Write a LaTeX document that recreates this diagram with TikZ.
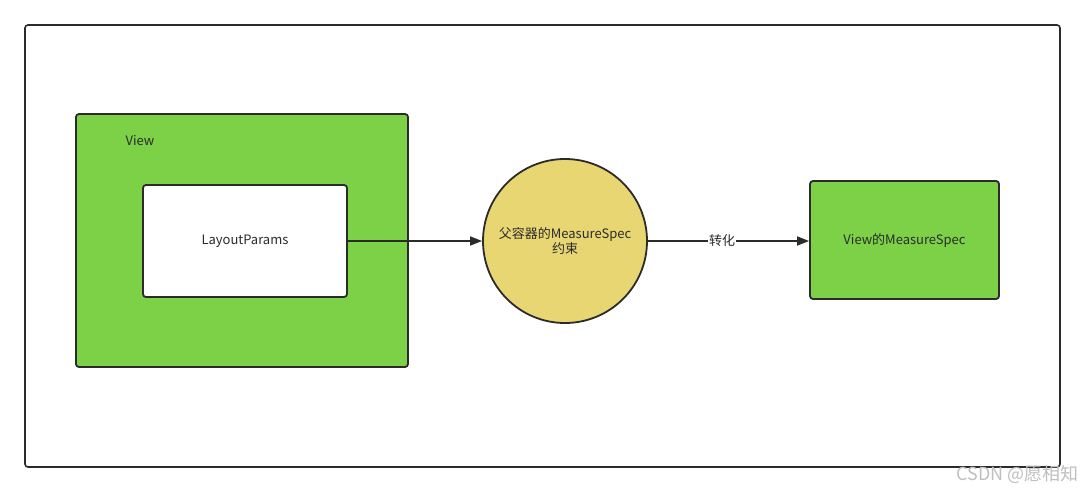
\documentclass[tikz,border=0pt]{standalone}
\usepackage{fontspec}
\setmainfont{Noto Sans CJK SC}
\usetikzlibrary{arrows.meta}
\definecolor{strokec}{HTML}{2B2B2B}
\definecolor{greenf}{HTML}{7CD147}
\definecolor{yellowf}{HTML}{E8D672}
\tikzset{
  box/.style={draw=strokec, line width=1.8pt, rounded corners=3pt},
  lbl/.style={font=\fontsize{13}{15}\selectfont, text=strokec},
  conn/.style={draw=strokec, line width=1.6pt, -{Triangle[length=12pt,width=9pt]}}
}
\begin{document}
\begin{tikzpicture}[x=1pt,y=-1pt]
\useasboundingbox (0,0) rectangle (1086,493);
\fill[white] (0,0) rectangle (1086,493);
\draw[box, line width=1.6pt] (25,25) rectangle (1060,467);
% View outer box
\draw[box, fill=greenf] (76,114) rectangle (408,367);
\node[lbl, anchor=center] (viewlbl) at (140,141) {View};
\node[box, fill=white, minimum width=204pt, minimum height=112pt, lbl] (lp) at (245,241) {LayoutParams};
\node[draw=strokec, line width=1.8pt, fill=yellowf, circle, minimum size=164pt, inner sep=0pt, lbl, align=center, font=\fontsize{13}{15}\selectfont] (ms) at (565,241) {父容器的MeasureSpec\\约束};
\node[box, fill=greenf, minimum width=189pt, minimum height=118pt, lbl] (vms) at (904.5,240) {View的MeasureSpec};
\draw[conn] (lp.east) -- (ms.west);
\draw[conn] (ms.east) -- node[lbl, fill=white, inner sep=1pt, pos=0.46] (zh) {转化} (vms.west |- ms.east);
\node[font=\fontsize{18}{20}\selectfont, text=black!25, anchor=east] (wm) at (1082,474) {CSDN @愿相知};
\end{tikzpicture}
\end{document}
